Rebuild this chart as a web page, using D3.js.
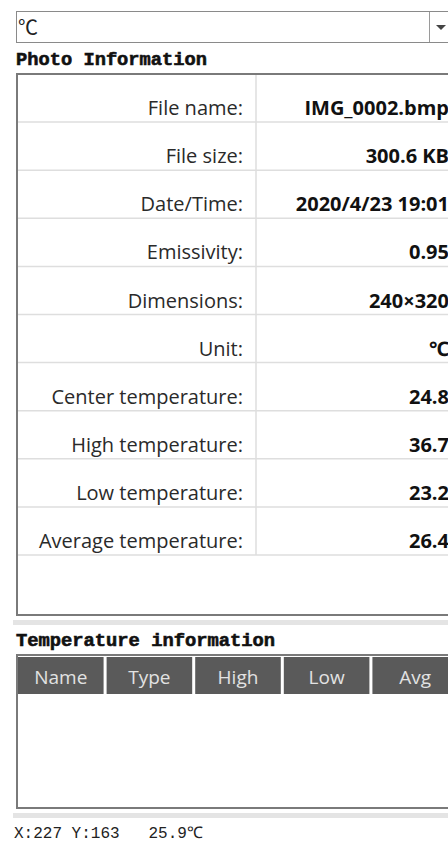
<!DOCTYPE html>
<html>
<head>
<meta charset="utf-8">
<script src="https://cdn.jsdelivr.net/npm/d3@7"></script>
<style>
  body { margin: 0; background: #fff; }
  svg { display: block; }
</style>
</head>
<body>
<svg id="panel"></svg>
<script>
// photo info rows
const infoLabels = ['File name:', 'File size:', 'Date/Time:', 'Emissivity:', 'Dimensions:',
    'Unit:', 'Center temperature:', 'High temperature:', 'Low temperature:', 'Average temperature:'];
const infoValues = ['IMG_0002.bmp', '300.6 KB', '2020/4/23 19:01', '0.95', '240×320',
    '℃', '24.8', '36.7', '23.2', '26.4'];
const tempHeaders = ['Name', 'Type', 'High', 'Low', 'Avg'];
const unitChoice = '℃';
const cursorX = 227, cursorY = 163, cursorTemp = 25.9;

const W = 448, H = 843;
const monoFont = '"Liberation Mono", "DejaVu Sans Mono", monospace';
const uiFont = '"Open Sans", "Noto Sans", sans-serif';

const svg = d3.select('#panel').attr('width', W).attr('height', H);

// unit dropdown
const drop = svg.append('g');
drop.append('rect')
    .attr('x', 16.5).attr('y', 11.5).attr('width', 460).attr('height', 31)
    .attr('fill', '#fff').attr('stroke', '#8a8a8a');
drop.append('line')
    .attr('x1', 429.5).attr('x2', 429.5).attr('y1', 12).attr('y2', 42)
    .attr('stroke', '#9a9a9a');
drop.append('path')
    .attr('d', 'M436,25 L446,25 L441,30 Z')
    .attr('fill', '#444');
drop.append('text')
    .attr('x', 18).attr('y', 35)
    .attr('font-family', '"Noto Sans CJK SC", sans-serif')
    .attr('font-size', 20).attr('fill', '#222')
    .text(unitChoice);

// section titles
svg.append('text')
    .attr('x', 16).attr('y', 65)
    .attr('font-family', monoFont).attr('font-weight', 'bold')
    .attr('font-size', 18.5).attr('fill', '#111')
    .attr('stroke', '#111').attr('stroke-width', 0.6)
    .attr('textLength', 191).attr('lengthAdjust', 'spacingAndGlyphs')
    .text('Photo Information');

// photo info table
const tTop = 74, tBottom = 615;
const y = d3.scaleBand().domain(infoLabels).range([tTop, 555]);

const table = svg.append('g');
table.append('rect')
    .attr('x', 17).attr('y', tTop).attr('width', 460).attr('height', tBottom - tTop)
    .attr('fill', '#fff').attr('stroke', '#7a7a7a').attr('stroke-width', 2);

table.selectAll('line.row')
    .data(infoLabels)
    .join('line')
    .attr('class', 'row')
    .attr('x1', 18).attr('x2', W)
    .attr('y1', d => y(d) + y.bandwidth())
    .attr('y2', d => y(d) + y.bandwidth())
    .attr('stroke', '#dedede').attr('stroke-width', 1.5);

table.append('line')
    .attr('x1', 256).attr('x2', 256)
    .attr('y1', tTop + 1).attr('y2', 555)
    .attr('stroke', '#dedede').attr('stroke-width', 1.5);

table.selectAll('text.label')
    .data(infoLabels)
    .join('text')
    .attr('class', 'label')
    .attr('x', 243)
    .attr('y', d => y(d) + y.bandwidth() - 7)
    .attr('text-anchor', 'end')
    .attr('font-family', uiFont).attr('font-size', 20)
    .attr('fill', '#2a2a2a')
    .text(d => d);

table.selectAll('text.value')
    .data(infoValues)
    .join('text')
    .attr('class', 'value')
    .attr('x', 449)
    .attr('y', (d, i) => y(infoLabels[i]) + y.bandwidth() - 7)
    .attr('text-anchor', 'end')
    .attr('font-family', uiFont).attr('font-size', 20).attr('font-weight', 'bold')
    .attr('fill', '#111')
    .text(d => d);

svg.append('rect')
    .attr('x', 13).attr('y', 620).attr('width', W).attr('height', 5)
    .attr('fill', '#e4e4e4');

svg.append('text')
    .attr('x', 16).attr('y', 646)
    .attr('font-family', monoFont).attr('font-weight', 'bold')
    .attr('font-size', 18.5).attr('fill', '#111')
    .attr('stroke', '#111').attr('stroke-width', 0.6)
    .attr('textLength', 259).attr('lengthAdjust', 'spacingAndGlyphs')
    .text('Temperature information');

// temperature table
const t2Top = 655, t2Bottom = 808;
const x = d3.scaleBand().domain(tempHeaders).range([18, 18 + 88 * 5]).paddingInner(3 / 88);

const t2 = svg.append('g');
t2.append('rect')
    .attr('x', 17).attr('y', t2Top).attr('width', 460).attr('height', t2Bottom - t2Top)
    .attr('fill', '#fff').attr('stroke', '#7a7a7a').attr('stroke-width', 2);

t2.selectAll('rect.head')
    .data(tempHeaders)
    .join('rect')
    .attr('class', 'head')
    .attr('x', d => x(d)).attr('y', 657)
    .attr('width', x.bandwidth()).attr('height', 37)
    .attr('fill', '#5a5a5a');

t2.selectAll('text.head')
    .data(tempHeaders)
    .join('text')
    .attr('class', 'head')
    .attr('x', d => x(d) + x.bandwidth() / 2)
    .attr('y', 684)
    .attr('text-anchor', 'middle')
    .attr('font-family', uiFont).attr('font-size', 19)
    .attr('fill', '#e2e2e2')
    .text(d => d);

svg.append('rect')
    .attr('x', 13).attr('y', 813).attr('width', W).attr('height', 5)
    .attr('fill', '#e4e4e4');

// status line
svg.append('text')
    .attr('x', 14).attr('y', 838)
    .attr('font-family', monoFont).attr('font-size', 16)
    .attr('fill', '#222')
    .attr('xml:space', 'preserve')
    .text(`X:${cursorX} Y:${cursorY}   ${cursorTemp.toFixed(1)}℃`);
</script>
</body>
</html>
